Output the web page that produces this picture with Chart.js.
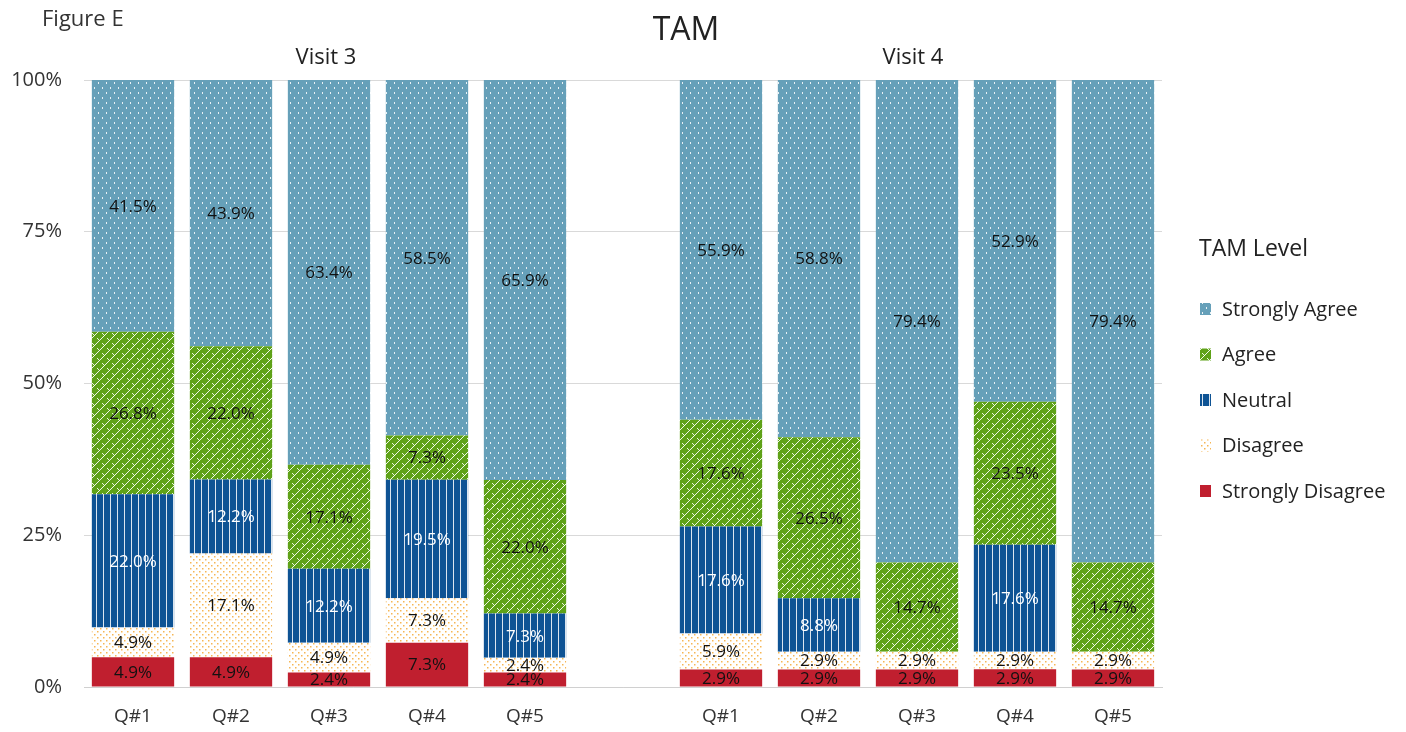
<!DOCTYPE html>
<html>
<head>
<meta charset="utf-8">
<script src="https://cdn.jsdelivr.net/npm/chart.js@4.4.1/dist/chart.umd.min.js"></script>
<style>
  html, body { margin: 0; padding: 0; background: #fff; }
  #wrap { width: 1406px; height: 732px; position: relative; }
</style>
</head>
<body>
<div id="wrap"><canvas id="tamChart" width="1406" height="732"></canvas></div>
<script>
// categories (empty slot separates the two visits)
const questions = ["Q#1", "Q#2", "Q#3", "Q#4", "Q#5", "", "Q#1", "Q#2", "Q#3", "Q#4", "Q#5"];
const visitLabels = ["Visit 3", "Visit 4"];
const levels = ["Strongly Disagree", "Disagree", "Neutral", "Agree", "Strongly Agree"];

// percentages per level, Visit 3 Q#1..Q#5, gap, Visit 4 Q#1..Q#5
const stronglyDisagree = [4.9, 4.9, 2.4, 7.3, 2.4, null, 2.9, 2.9, 2.9, 2.9, 2.9];
const disagree         = [4.9, 17.1, 4.9, 7.3, 2.4, null, 5.9, 2.9, 2.9, 2.9, 2.9];
const neutral          = [22.0, 12.2, 12.2, 19.5, 7.3, null, 17.6, 8.8, 0, 17.6, 0];
const agree            = [26.8, 22.0, 17.1, 7.3, 22.0, null, 17.6, 26.5, 14.7, 23.5, 14.7];
const stronglyAgree    = [41.5, 43.9, 63.4, 58.5, 65.9, null, 55.9, 58.8, 79.4, 52.9, 79.4];

const FONT = "'Open Sans', 'Noto Sans', sans-serif";

function makePattern(w, h, draw) {
    const c = document.createElement("canvas");
    c.width = w; c.height = h;
    const g = c.getContext("2d");
    draw(g);
    return document.getElementById("tamChart").getContext("2d").createPattern(c, "repeat");
}

const patSA = makePattern(8, 10, g => {
    g.fillStyle = "#66a0b9"; g.fillRect(0, 0, 8, 10);
    g.fillStyle = "rgba(255,255,255,0.85)";
    g.fillRect(2, 2, 1, 2);
    g.fillRect(6, 7, 1, 2);
});
const patA = makePattern(10, 10, g => {
    g.fillStyle = "#5fa218"; g.fillRect(0, 0, 10, 10);
    g.strokeStyle = "rgba(255,255,255,0.9)"; g.lineWidth = 1;
    g.beginPath(); g.moveTo(0, 10); g.lineTo(10, 0); g.stroke();
    g.beginPath(); g.moveTo(-5, 5); g.lineTo(5, -5); g.stroke();
    g.beginPath(); g.moveTo(5, 15); g.lineTo(15, 5); g.stroke();
    g.beginPath(); g.moveTo(2, 3); g.lineTo(5, 6); g.stroke();
    g.beginPath(); g.moveTo(7, 8); g.lineTo(9, 10); g.stroke();
});
const patN = makePattern(7, 4, g => {
    g.fillStyle = "#0e5394"; g.fillRect(0, 0, 7, 4);
    g.fillStyle = "rgba(255,255,255,0.85)"; g.fillRect(5, 0, 1, 4);
});
const patD = makePattern(6, 6, g => {
    g.fillStyle = "#ffffff"; g.fillRect(0, 0, 6, 6);
    g.fillStyle = "#f6b654";
    g.fillRect(1, 1, 1.5, 1.5);
    g.fillRect(4, 4, 1.5, 1.5);
});
const fills = [ "#c01f2f", patD, patN, patA, patSA ];
const labelColors = [ "#111", "#111", "#ffffff", "#111", "#111" ];

const series = [stronglyDisagree, disagree, neutral, agree, stronglyAgree];

// 100% stacked: scale each column by its total, keep raw value for labels
const totals = questions.map((q, i) => series.reduce((s, arr) => s + (arr[i] || 0), 0));

const datasets = series.map((arr, k) => ({
    label: levels[k],
    raw: arr,
    data: arr.map((v, i) => v === null ? null : v / totals[i] * 100),
    backgroundColor: fills[k],
    borderWidth: 0,
    barPercentage: 0.84,
    categoryPercentage: 1.0
}));

const extras = {
    id: "extras",
    afterDatasetsDraw(chart) {
        const ctx = chart.ctx;
        ctx.save();
        ctx.font = "17px " + FONT;
        ctx.textAlign = "center";
        ctx.textBaseline = "middle";
        chart.data.datasets.forEach((ds, k) => {
            chart.getDatasetMeta(k).data.forEach((bar, i) => {
                const v = ds.raw[i];
                if (!v) return;
                ctx.fillStyle = labelColors[k];
                ctx.fillText(v.toFixed(1) + "%", bar.x, (bar.y + bar.base) / 2 + 1);
            });
        });
        ctx.restore();
    },
    afterDraw(chart) {
        const ctx = chart.ctx;
        const x = chart.scales.x;
        ctx.save();
        ctx.fillStyle = "#222";
        ctx.textBaseline = "middle";
        // figure tag
        ctx.font = "22px " + FONT;
        ctx.textAlign = "left";
        ctx.fillStyle = "#333";
        ctx.fillText("Figure E", 42, 20);
        ctx.fillStyle = "#222";
        // title
        ctx.font = "32px " + FONT;
        ctx.textAlign = "center";
        ctx.fillText("TAM", 686, 31);
        // visit headers
        ctx.font = "22px " + FONT;
        ctx.fillText(visitLabels[0], (x.getPixelForValue(0) + x.getPixelForValue(4)) / 2 - 3, 58);
        ctx.fillText(visitLabels[1], (x.getPixelForValue(6) + x.getPixelForValue(10)) / 2 - 4, 58);
        // legend
        ctx.textAlign = "left";
        ctx.font = "23px " + FONT;
        ctx.fillText("TAM Level", 1199, 249);
        ctx.font = "20px " + FONT;
        for (let k = levels.length - 1, row = 0; k >= 0; k--, row++) {
            const y = 309 + row * 45.5;
            ctx.fillStyle = fills[k];
            ctx.fillRect(1200, y - 6, 11, 12);
            ctx.fillStyle = "#222";
            ctx.fillText(levels[k], 1222, y + 1);
        }
        ctx.restore();
    }
};

new Chart(document.getElementById("tamChart"), {
    type: "bar",
    data: { labels: questions, datasets },
    options: {
        responsive: false,
        animation: false,
        layout: { padding: { top: 80, right: 244, bottom: 0, left: 0 } },
        plugins: {
            legend: { display: false },
            title: { display: false },
            tooltip: { enabled: false }
        },
        scales: {
            x: {
                stacked: true,
                grid: { display: false, drawTicks: false },
                border: { display: true, color: "#d0d0d0", width: 1 },
                ticks: { color: "#333", font: { size: 19, family: FONT }, padding: 18 },
                afterFit(scale) { scale.height = 45; }
            },
            y: {
                stacked: true,
                min: 0, max: 100,
                grid: { color: "#d9d9d9", drawTicks: false },
                border: { display: false },
                ticks: {
                    stepSize: 25,
                    color: "#333",
                    font: { size: 20, family: FONT },
                    padding: 22,
                    callback: v => v + "%"
                },
                afterFit(scale) { scale.width = 84; }
            }
        }
    },
    plugins: [extras]
});
</script>
</body>
</html>
